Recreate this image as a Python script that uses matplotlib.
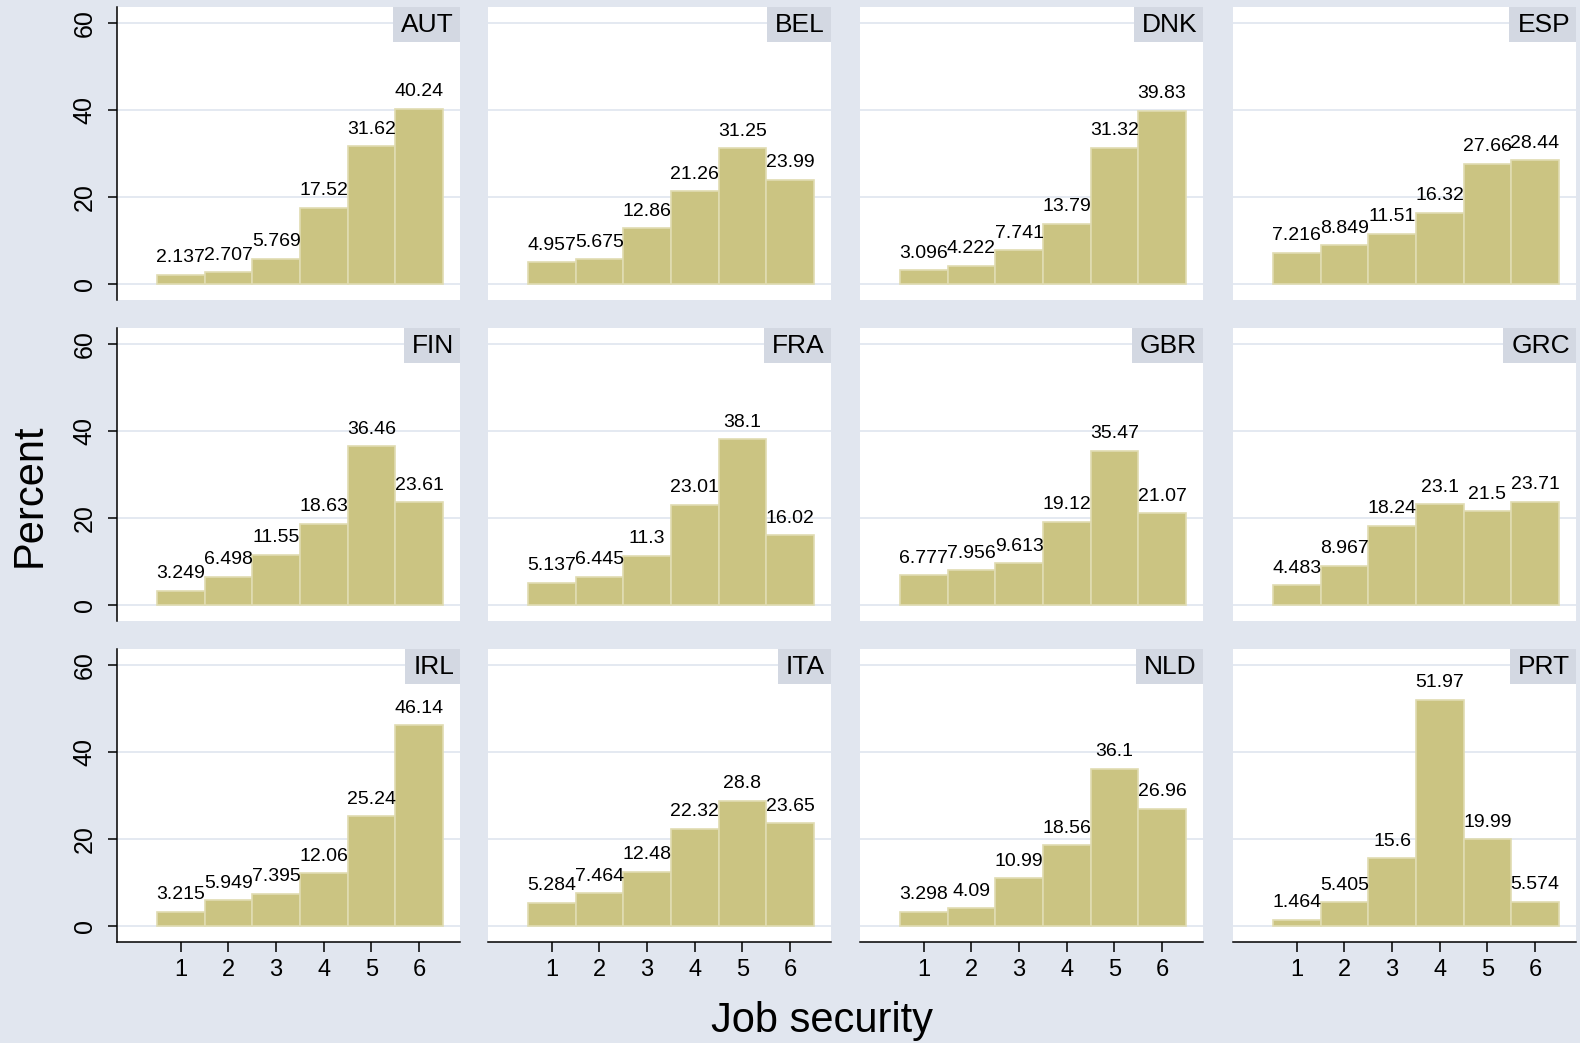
# -*- coding: UTF-8 -*-

"""
Job security by country: percent of respondents per answer category.
"""

import matplotlib
matplotlib.use('Agg')
import matplotlib.pyplot as plt
from matplotlib.patches import Rectangle

plt.rcParams['font.family'] = ['Liberation Sans', 'DejaVu Sans']

countries = ['AUT', 'BEL', 'DNK', 'ESP',
             'FIN', 'FRA', 'GBR', 'GRC',
             'IRL', 'ITA', 'NLD', 'PRT']
job_security = [1, 2, 3, 4, 5, 6]

aut = [2.137, 2.707, 5.769, 17.52, 31.62, 40.24]
bel = [4.957, 5.675, 12.86, 21.26, 31.25, 23.99]
dnk = [3.096, 4.222, 7.741, 13.79, 31.32, 39.83]
esp = [7.216, 8.849, 11.51, 16.32, 27.66, 28.44]
fin = [3.249, 6.498, 11.55, 18.63, 36.46, 23.61]
fra = [5.137, 6.445, 11.3, 23.01, 38.1, 16.02]
gbr = [6.777, 7.956, 9.613, 19.12, 35.47, 21.07]
grc = [4.483, 8.967, 18.24, 23.1, 21.5, 23.71]
irl = [3.215, 5.949, 7.395, 12.06, 25.24, 46.14]
ita = [5.284, 7.464, 12.48, 22.32, 28.8, 23.65]
nld = [3.298, 4.09, 10.99, 18.56, 36.1, 26.96]
prt = [1.464, 5.405, 15.6, 51.97, 19.99, 5.574]
percent = [aut, bel, dnk, esp, fin, fra, gbr, grc, irl, ita, nld, prt]

BG = '#e1e6ef'
STRIP = '#d3d8e2'
GRID = '#dde3ee'
BAR = '#cbc482'
EDGE = '#e0dcb2'

W, H = 1580, 1043
col_left = [117, 488, 860, 1233]
row_top = [7, 328, 649]
panel_w, panel_h = 343, 293

fig = plt.figure(figsize=(W / 100, H / 100), dpi=100, facecolor=BG)

axes, titles = [], []
for i, (cty, vals) in enumerate(zip(countries, percent)):
    r, c = divmod(i, 4)
    ax = fig.add_axes([col_left[c] / W, 1 - (row_top[r] + panel_h) / H,
                       panel_w / W, panel_h / H])
    ax.set_facecolor('white')
    ax.bar(job_security, vals, width=1.0, color=BAR, edgecolor=EDGE,
           linewidth=1.2, zorder=2)
    for x, v in zip(job_security, vals):
        ax.annotate('%.4g' % v, (x, v), xytext=(0, 9), textcoords='offset points',
                    ha='center', va='baseline', fontsize=14, zorder=3)

    ax.set_xlim(-0.34, 6.86)
    ax.set_ylim(-3.7, 63.7)
    ax.set_yticks([0, 20, 40, 60])
    ax.set_xticks(job_security)
    ax.grid(axis='y', color=GRID, linewidth=1.1)
    ax.set_axisbelow(True)
    for s in ax.spines.values():
        s.set_visible(False)

    if c == 0:
        ax.spines['left'].set_visible(True)
        ax.spines['left'].set_linewidth(1.1)
        ax.tick_params(axis='y', length=6.5, width=1.1, labelsize=18,
                       labelrotation=90, pad=8)
        for lbl in ax.get_yticklabels():
            lbl.set_va('center')
    else:
        ax.tick_params(axis='y', left=False, labelleft=False)

    if r == 2:
        ax.spines['bottom'].set_visible(True)
        ax.spines['bottom'].set_linewidth(1.1)
        ax.tick_params(axis='x', length=7, width=1.1, labelsize=17, pad=5)
    else:
        ax.tick_params(axis='x', bottom=False, labelbottom=False)

    t = ax.text(1 - 6 / panel_w, 1 - 25 / panel_h, cty, transform=ax.transAxes,
                ha='right', va='baseline', fontsize=19, zorder=5)
    axes.append(ax)
    titles.append(t)

# strip boxes behind the country names, sized to the text
fig.canvas.draw()
for ax, t in zip(axes, titles):
    bb = t.get_window_extent()
    ab = ax.get_window_extent()
    x0 = (bb.x0 - 8 - ab.x0) / ab.width
    h = 35 / ab.height
    ax.add_patch(Rectangle((x0, 1 - h), 1 - x0, h, transform=ax.transAxes,
                           facecolor=STRIP, edgecolor='none', zorder=4,
                           clip_on=False))

fig.text(30 / W, 1 - 495 / H, 'Percent', rotation=90, ha='center', va='center',
         fontsize=30)
fig.text(822 / W, 1 - 1032 / H, 'Job security', ha='center', va='baseline',
         fontsize=30)

fig.savefig('out.png', dpi=100, facecolor=BG)
